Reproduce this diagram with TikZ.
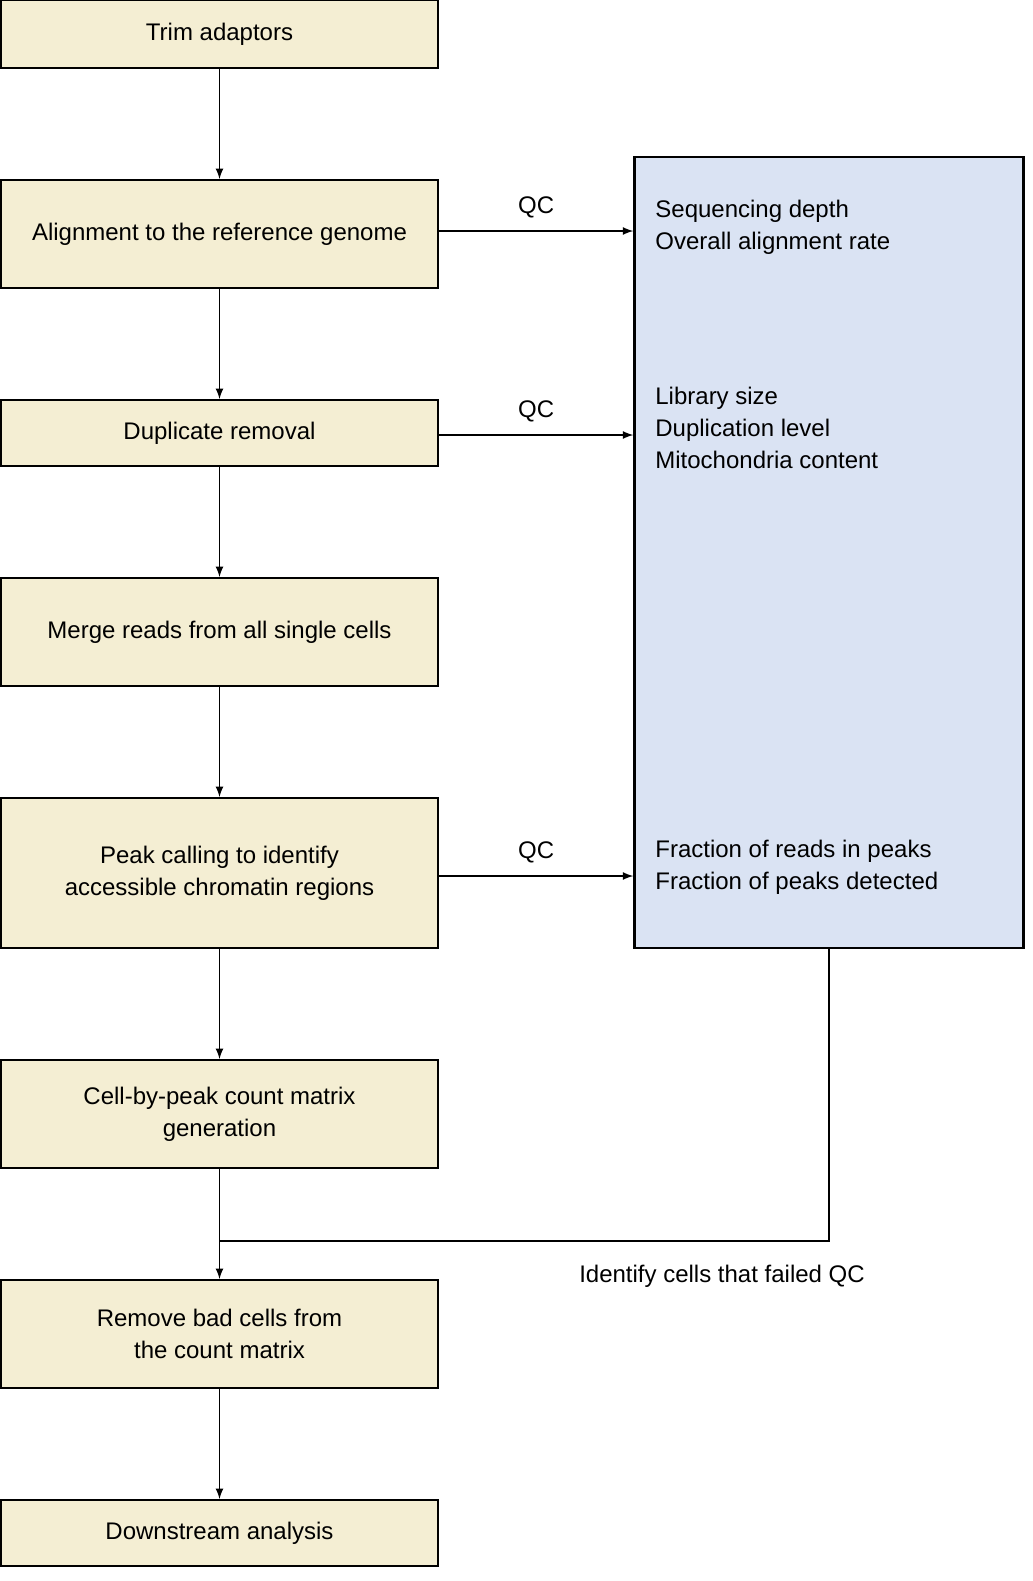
\documentclass[tikz,border=0pt]{standalone}
\usepackage{fontspec}
\setmainfont{Liberation Sans}
\usetikzlibrary{positioning}
\definecolor{stepfill}{HTML}{F4EED3}
\definecolor{qcfill}{HTML}{DAE3F3}
\tikzset{
  stage/.style={draw=black,fill=stepfill,line width=1pt,minimum width=218.5pt,
    align=center,font=\fontsize{12}{16}\selectfont,inner sep=0pt},
  lbl/.style={font=\fontsize{12}{16}\selectfont,align=left,inner sep=0pt}
}
\begin{document}
\begin{tikzpicture}[x=0.5pt,y=-0.5pt]
\useasboundingbox (0,0) rectangle (1033,1581);
\node[stage,minimum height=34pt](trim)at(219.5,34){Trim adaptors};
\node[stage,minimum height=54pt](align)at(219.5,234){Alignment to the reference genome};
\node[stage,minimum height=33pt](dup)at(219.5,433){Duplicate removal};
\node[stage,minimum height=54pt](merge)at(219.5,632){Merge reads from all single cells};
\node[stage,minimum height=75pt](peak)at(219.5,873){Peak calling to identify\\accessible chromatin regions};
\node[stage,minimum height=54pt](count)at(219.5,1114){Cell-by-peak count matrix\\generation};
\node[stage,minimum height=54pt](bad)at(219.5,1334){Remove bad cells from\\the count matrix};
\node[stage,minimum height=33pt](down)at(219.5,1533){Downstream analysis};
%% QC box
\node[draw=black,fill=qcfill,line width=1.2pt,minimum width=194.5pt,minimum height=395.5pt,inner sep=0pt](qc)at(829,552.5){};
\node[lbl,anchor=north west](q1)at(655,200){Sequencing depth\\Overall alignment rate};
\node[lbl,anchor=north west](q2)at(655,387){Library size\\Duplication level\\Mitochondria content};
\node[lbl,anchor=north west](q3)at(655,840){Fraction of reads in peaks\\Fraction of peaks detected};
%% main flow
\foreach \a/\b in {trim/align,align/dup,dup/merge,merge/peak,peak/count,bad/down}
  \draw[-latex,line width=0.8pt](\a)--(\b);
%% QC arrows
\draw[-latex,line width=0.8pt](align.east|-0,231)--node[lbl,above=6pt]{QC}(qc.west|-0,231);
\draw[-latex,line width=0.8pt](dup.east|-0,435)--node[lbl,above=6pt]{QC}(qc.west|-0,435);
\draw[-latex,line width=0.8pt](peak.east|-0,876)--node[lbl,above=6pt]{QC}(qc.west|-0,876);
%% feedback
\coordinate(J)at(count.south|-0,1241);
\draw[line width=1.2pt](qc.south)|-(J);
\draw[-latex,line width=0.8pt](count)--(bad);
\node[lbl](fail)at(722,1276){Identify cells that failed QC};
\end{tikzpicture}
\end{document}
